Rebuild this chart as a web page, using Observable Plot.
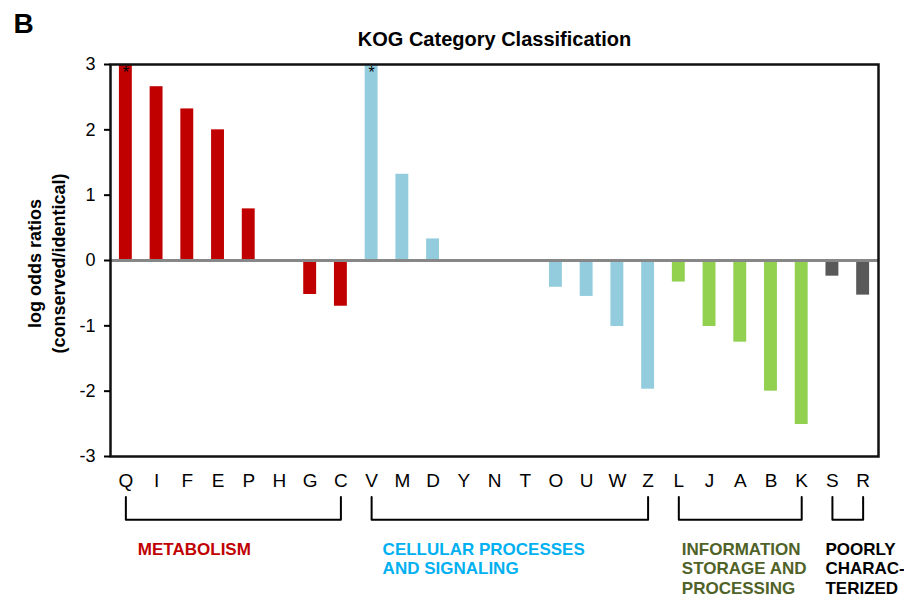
<!DOCTYPE html>
<html>
<head>
<meta charset="utf-8">
<script src="https://cdn.jsdelivr.net/npm/d3@7"></script>
<script src="https://cdn.jsdelivr.net/npm/@observablehq/plot@0.6"></script>
<style>
  html, body { margin: 0; padding: 0; background: #fff; }
  #chart svg { display: block; }
</style>
</head>
<body>
<div id="chart"></div>
<script>
// KOG categories in display order
const categories = ["Q","I","F","E","P","H","G","C","V","M","D","Y","N","T","O","U","W","Z","L","J","A","B","K","S","R"];
// log odds ratios (conserved/identical)
const values = [3.0, 2.66, 2.32, 2.0, 0.79, 0, -0.52, -0.70, 3.0, 1.32, 0.33, 0, 0, 0, -0.41, -0.55, -1.01, -1.97, -0.33, -1.01, -1.25, -2.0, -2.51, -0.24, -0.53];
// group membership of each category
const groupOf = ["met","met","met","met","met","met","met","met","cel","cel","cel","cel","cel","cel","cel","cel","cel","cel","inf","inf","inf","inf","inf","poor","poor"];
// groups
const groupKeys = ["met","cel","inf","poor"];
const groupLabels = ["METABOLISM", "CELLULAR PROCESSES\nAND SIGNALING", "INFORMATION\nSTORAGE AND\nPROCESSING", "POORLY\nCHARAC-\nTERIZED"];
const groupFirst = ["Q","V","L","S"];
const groupLast = ["C","Z","K","R"];
const groupBarColors = ["#C00000", "#93CDDD", "#92D050", "#595959"];
const groupTextColors = ["#C00000", "#00B0F0", "#4F6228", "#000000"];
// significance markers
const starred = ["Q","V"];
const yTicks = [-3, -2, -1, 0, 1, 2, 3];

const data = categories.map((c, i) => ({cat: c, val: values[i], group: groupOf[i]}));
const barColor = g => groupBarColors[groupKeys.indexOf(g)];

// layout constants (not data)
const bracketTop = -3.62, bracketBottom = -3.97;
const labelShift = [12, 11, 3, -7];

const font = "Liberation Sans, Arial, Helvetica, sans-serif";

const bracketData = groupKeys.flatMap((g, i) => [
  {g, x: groupFirst[i], y: bracketTop},
  {g, x: groupFirst[i], y: bracketBottom},
  {g, x: groupLast[i], y: bracketBottom},
  {g, x: groupLast[i], y: bracketTop}
]);

const groupTextMarks = groupKeys.map((g, i) =>
  Plot.text([groupLabels[i]], {
    x: () => groupFirst[i],
    frameAnchor: "bottom",
    dy: 84.5,
    dx: labelShift[i],
    textAnchor: "start",
    lineAnchor: "top",
    lineHeight: 1.14,
    fontSize: 17,
    fontWeight: "bold",
    fill: groupTextColors[i]
  })
);

const plot = Plot.plot({
  width: 904,
  height: 598,
  marginLeft: 110,
  marginRight: 26,
  marginTop: 64,
  marginBottom: 142,
  style: {fontFamily: font, background: "#fff", overflow: "visible"},
  x: {domain: categories, paddingInner: 0.58, paddingOuter: 0.29, round: false, label: null},
  y: {domain: [-3, 3], label: null},
  marks: [
    Plot.barY(data, {x: "cat", y: "val", fill: d => barColor(d.group)}),
    Plot.ruleY([0], {stroke: "#878787", strokeWidth: 3}),
    Plot.frame({stroke: "#111", strokeWidth: 2.5}),
    Plot.ruleX([0], {frameAnchor: "left", stroke: "#000", strokeWidth: 3}),
    Plot.axisY({ticks: yTicks, tickSize: 6, tickPadding: 9, tickFormat: d => String(d), fontSize: 18, stroke: "#000", strokeWidth: 2, label: null}),
    Plot.axisX({tickSize: 0, tickPadding: 17, fontSize: 19, label: null}),
    Plot.text(starred, {x: d => d, y: 3, dy: 8, text: () => "*", fontSize: 16, fill: "#000"}),
    Plot.line(bracketData, {x: "x", y: "y", z: "g", stroke: "#000", strokeWidth: 2}),
    ...groupTextMarks,
    Plot.text(["KOG Category Classification"], {frameAnchor: "top", lineAnchor: "middle", dy: -25, fontSize: 20, fontWeight: "bold", fill: "#000"}),
    Plot.text(["B"], {frameAnchor: "top-left", lineAnchor: "middle", dx: -87, dy: -40, textAnchor: "middle", fontSize: 28, fontWeight: "bold", fill: "#000"}),
    Plot.text(["log odds ratios"], {frameAnchor: "left", lineAnchor: "middle", dx: -75, dy: 3, rotate: -90, textAnchor: "middle", fontSize: 18, fontWeight: "bold", fill: "#000"}),
    Plot.text(["(conserved/identical)"], {frameAnchor: "left", lineAnchor: "middle", dx: -51, dy: 3, rotate: -90, textAnchor: "middle", fontSize: 18, fontWeight: "bold", fill: "#000"})
  ]
});

document.getElementById("chart").appendChild(plot);
</script>
</body>
</html>
